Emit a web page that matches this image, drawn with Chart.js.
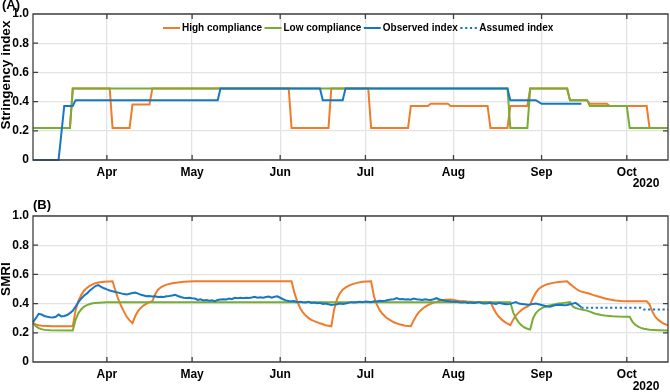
<!DOCTYPE html>
<html><head><meta charset="utf-8">
<script src="https://cdn.jsdelivr.net/npm/chart.js@4.4.1/dist/chart.umd.min.js"></script>
<style>
html,body{margin:0;padding:0;background:#fff;}
#wrap{position:relative;width:670px;height:392px;overflow:hidden;background:#fff;}
.p{position:absolute;left:0;width:670px;}
</style></head><body>
<div id="wrap">
<div class="p" style="top:0;height:192px"><canvas id="cA"></canvas></div>
<div class="p" style="top:192px;height:200px"><canvas id="cB"></canvas></div>
</div>
<script>
// x values are days counted from 1 March 2020 (day 0)
const monthTickDays = [31, 61, 92, 122, 153, 184, 214];
const monthTickLabels = ['Apr', 'May', 'Jun', 'Jul', 'Aug', 'Sep', 'Oct'];
const yearLabel = '2020';
const xStartDay = 5, xEndDay = 228.5;
const seriesNames = ['High compliance', 'Low compliance', 'Observed index', 'Assumed index'];

// Panel A: stringency index, [day, value] breakpoints
const stringencyHigh = [[5,0.22],[18,0.22],[19,0.49],[32,0.49],[33,0.22],[39,0.22],[40,0.38],[46,0.38],[47,0.49],[95,0.49],[96,0.22],[109,0.22],[110,0.49],[123,0.49],[124,0.22],[137,0.22],[138,0.37],[144,0.37],[145,0.385],[151,0.385],[152,0.37],[165,0.37],[166,0.22],[172,0.22],[173,0.37],[179,0.37],[180,0.49],[193,0.49],[194,0.41],[200,0.41],[201,0.385],[207,0.385],[208,0.37],[221,0.37],[222,0.22],[228.5,0.22]];
const stringencyLow = [[5,0.22],[18,0.22],[19,0.49],[172,0.49],[173,0.22],[179,0.22],[180,0.49],[193,0.49],[194,0.41],[200,0.41],[201,0.37],[214,0.37],[215,0.22],[228.5,0.22]];
const stringencyObserved = [[5,0],[14,0],[16,0.37],[19,0.37],[20,0.41],[70,0.41],[71,0.49],[106,0.49],[107,0.41],[114,0.41],[115,0.49],[172,0.49],[173,0.41],[182,0.41],[184,0.385],[198,0.385]];
const stringencyAssumed = [];

// Panel B: SMRI
const smriHigh = [[5,0.268],[6,0.258],[7,0.252],[8,0.249],[10,0.247],[12,0.245],[19,0.245],[20,0.355],[21,0.42],[22,0.46],[23,0.49],[24,0.508],[25,0.522],[26,0.532],[27,0.54],[28,0.545],[30,0.55],[33,0.553],[34,0.49],[35,0.43],[36,0.385],[37,0.345],[38,0.31],[39,0.285],[40,0.266],[41,0.315],[42,0.35],[43,0.372],[44,0.388],[45,0.4],[46,0.41],[47,0.416],[48,0.465],[49,0.495],[50,0.512],[51,0.522],[52,0.53],[54,0.54],[56,0.545],[58,0.549],[62,0.553],[96,0.553],[97,0.475],[98,0.415],[99,0.37],[100,0.34],[101,0.318],[102,0.3],[103,0.288],[104,0.28],[106,0.265],[108,0.252],[110,0.245],[111,0.36],[112,0.43],[113,0.47],[114,0.495],[115,0.51],[116,0.522],[117,0.53],[119,0.542],[121,0.549],[124,0.553],[125,0.45],[126,0.394],[127,0.355],[128,0.33],[129,0.31],[130,0.295],[132,0.272],[134,0.258],[136,0.249],[138,0.245],[139,0.285],[140,0.32],[141,0.345],[142,0.363],[143,0.378],[144,0.39],[146,0.407],[148,0.418],[150,0.426],[152,0.428],[154,0.422],[156,0.417],[158,0.414],[160,0.412],[166,0.411],[167,0.37],[168,0.335],[169,0.31],[170,0.29],[171,0.275],[172,0.262],[173,0.252],[174,0.29],[175,0.32],[176,0.34],[177,0.357],[178,0.37],[179,0.38],[180,0.394],[181,0.44],[182,0.475],[183,0.5],[184,0.515],[185,0.525],[186,0.533],[188,0.542],[190,0.548],[193,0.553],[194,0.535],[195,0.519],[196,0.503],[197,0.49],[198,0.482],[200,0.472],[201,0.467],[202,0.46],[204,0.449],[206,0.437],[208,0.428],[210,0.422],[212,0.418],[214,0.416],[221,0.416],[222,0.395],[223,0.345],[224,0.31],[225,0.29],[226,0.275],[227,0.263],[228.5,0.252]];
const smriLow = [[5,0.268],[6,0.245],[7,0.232],[8,0.225],[9,0.22],[11,0.217],[19,0.216],[20,0.29],[21,0.335],[22,0.362],[23,0.38],[24,0.39],[25,0.397],[26,0.402],[28,0.406],[31,0.41],[173,0.41],[174,0.34],[175,0.3],[176,0.27],[177,0.25],[178,0.236],[179,0.228],[180,0.222],[181,0.3],[182,0.335],[183,0.355],[184,0.368],[185,0.377],[186,0.384],[188,0.393],[190,0.4],[192,0.405],[194,0.41],[195,0.38],[196,0.37],[197,0.364],[198,0.36],[200,0.352],[201,0.345],[202,0.337],[203,0.33],[205,0.322],[207,0.316],[209,0.313],[211,0.311],[214,0.31],[215,0.31],[216,0.275],[217,0.255],[218,0.242],[219,0.234],[220,0.228],[222,0.221],[225,0.218],[228.5,0.216]];
const smriObservedStartDay = 5;
const smriObservedValues = [
 0.273,0.30,0.33,0.325,0.315,0.31,0.307,0.305,0.31,0.325,
 0.312,0.315,0.322,0.335,0.35,0.38,0.41,0.435,0.455,0.47,
 0.49,0.505,0.52,0.527,0.515,0.505,0.497,0.49,0.485,0.48,
 0.475,0.47,0.465,0.462,0.468,0.472,0.475,0.468,0.46,0.455,
 0.45,0.452,0.448,0.45,0.445,0.447,0.445,0.45,0.452,0.455,
 0.46,0.452,0.445,0.44,0.438,0.44,0.436,0.435,0.425,0.43,
 0.422,0.425,0.42,0.423,0.417,0.425,0.428,0.43,0.428,0.435,
 0.43,0.44,0.437,0.44,0.436,0.44,0.438,0.442,0.447,0.44,
 0.443,0.44,0.445,0.448,0.44,0.447,0.45,0.44,0.43,0.422,
 0.418,0.416,0.417,0.41,0.413,0.41,0.408,0.412,0.405,0.408,
 0.403,0.405,0.398,0.4,0.395,0.39,0.393,0.395,0.4,0.398,
 0.4,0.405,0.41,0.408,0.41,0.412,0.41,0.415,0.413,0.41,
 0.416,0.415,0.42,0.418,0.42,0.425,0.428,0.43,0.438,0.43,
 0.432,0.428,0.43,0.427,0.435,0.43,0.428,0.425,0.43,0.427,
 0.425,0.43,0.437,0.428,0.425,0.42,0.418,0.415,0.412,0.415,
 0.41,0.408,0.41,0.405,0.408,0.404,0.405,0.41,0.403,0.40,
 0.402,0.405,0.40,0.398,0.405,0.40,0.398,0.395,0.398,0.405,
 0.41,0.40,0.398,0.395,0.392,0.394,0.398,0.40,0.395,0.39,
 0.385,0.38,0.378,0.385,0.39,0.392,0.39,0.388,0.39,0.395,
 0.40,0.405,0.39,0.375];
const smriAssumed = [[198,0.371],[219,0.371],[220,0.36],[228.5,0.36]];

const FONT = '"Liberation Sans", Arial, Helvetica, sans-serif';
const COL = { high: '#F07C2A', low: '#77AD35', obs: '#1677C4' };
Chart.defaults.font.family = FONT;

const pairsToPoints = (pairs) => pairs.map(p => ({ x: p[0], y: p[1] }));
const seqToPoints = (start, vals) => vals.map((v, i) => ({ x: start + i, y: v }));

function makeDatasets(high, low, obs, assumed) {
  return [
    { label: seriesNames[0], data: high, borderColor: COL.high, backgroundColor: COL.high, borderWidth: 2, order: 3 },
    { label: seriesNames[1], data: low, borderColor: COL.low, backgroundColor: COL.low, borderWidth: 2, order: 2 },
    { label: seriesNames[2], data: obs, borderColor: COL.obs, backgroundColor: COL.obs, borderWidth: 2, order: 1 },
    { label: seriesNames[3], data: assumed, borderColor: COL.obs, backgroundColor: COL.obs, borderWidth: 2, borderDash: [2.2, 2.6], order: 0 }
  ].map(d => Object.assign(d, { pointRadius: 0, pointHoverRadius: 0, tension: 0, fill: false, borderJoinStyle: 'miter', clip: 3 }));
}

const decor = {
  id: 'decor',
  afterDatasetsDraw(chart, args, o) {
    const { ctx, chartArea: a } = chart;
    const xs = chart.scales.x, ys = chart.scales.y;
    ctx.save();
    // box and inward ticks
    ctx.strokeStyle = '#404040';
    ctx.lineWidth = 1.3;
    ctx.beginPath();
    ctx.rect(a.left, a.top, a.right - a.left, a.bottom - a.top);
    const tl = 5;
    xs.ticks.forEach(t => {
      const p = xs.getPixelForValue(t.value);
      ctx.moveTo(p, a.bottom); ctx.lineTo(p, a.bottom - tl);
      ctx.moveTo(p, a.top); ctx.lineTo(p, a.top + tl);
    });
    ys.ticks.forEach(t => {
      const p = ys.getPixelForValue(t.value);
      ctx.moveTo(a.left, p); ctx.lineTo(a.left + tl, p);
      ctx.moveTo(a.right, p); ctx.lineTo(a.right - tl, p);
    });
    ctx.stroke();
    ctx.fillStyle = '#000';
    // panel tag
    ctx.font = 'bold 13px ' + FONT;
    ctx.textAlign = 'left'; ctx.textBaseline = 'middle';
    ctx.fillText(o.tag.text, o.tag.x, o.tag.y);
    // year
    ctx.font = 'bold 12px ' + FONT;
    ctx.textAlign = 'center';
    ctx.fillText(yearLabel, o.year.x, o.year.y);
    // y title
    ctx.save();
    ctx.translate(o.title.x, o.title.y);
    ctx.rotate(-Math.PI / 2);
    ctx.font = 'bold 13.5px ' + FONT;
    ctx.textAlign = 'center'; ctx.textBaseline = 'middle';
    ctx.fillText(o.title.text, 0, 0);
    ctx.restore();
    // legend inside the axes
    if (o.legend) {
      let x = o.legend.x;
      const y = o.legend.y;
      ctx.font = 'bold 10px ' + FONT;
      ctx.textAlign = 'left'; ctx.textBaseline = 'middle';
      chart.data.datasets.forEach(ds => {
        ctx.save();
        ctx.strokeStyle = ds.borderColor;
        ctx.lineWidth = 2;
        ctx.setLineDash(ds.borderDash || []);
        ctx.beginPath(); ctx.moveTo(x, y); ctx.lineTo(x + 17, y); ctx.stroke();
        ctx.restore();
        ctx.fillStyle = '#000';
        ctx.fillText(ds.label, x + 19, y + 0.5);
        x += 19 + ctx.measureText(ds.label).width + 2.5;
      });
    }
    ctx.restore();
  }
};

function makeChart(id, datasets, padTop, xHeight, decorOpts) {
  return new Chart(document.getElementById(id), {
    type: 'line',
    data: { datasets },
    plugins: [decor],
    options: {
      responsive: true, maintainAspectRatio: false, animation: false, events: [],
      layout: { padding: { top: padTop, right: 2, left: 0, bottom: 0 } },
      plugins: { legend: { display: false }, tooltip: { enabled: false }, decor: decorOpts },
      scales: {
        x: {
          type: 'linear', min: xStartDay, max: xEndDay,
          afterBuildTicks: s => { s.ticks = monthTickDays.map(v => ({ value: v })); },
          afterFit: s => { s.height = xHeight; },
          ticks: { autoSkip: false, maxRotation: 0, padding: 5, color: '#000',
                   font: { size: 12, weight: 'bold' },
                   callback: v => monthTickLabels[monthTickDays.indexOf(v)] },
          grid: { color: '#e3e3e3', lineWidth: 1.3, drawTicks: false },
          border: { display: false }
        },
        y: {
          min: 0, max: 1,
          afterFit: s => { s.width = 33; },
          ticks: { stepSize: 0.2, padding: 4, color: '#000', font: { size: 12, weight: 'bold' } },
          grid: { color: '#e3e3e3', lineWidth: 1.3, drawTicks: false },
          border: { display: false }
        }
      }
    }
  });
}

makeChart('cA',
  makeDatasets(pairsToPoints(stringencyHigh), pairsToPoints(stringencyLow), pairsToPoints(stringencyObserved), pairsToPoints(stringencyAssumed)),
  14, 32,
  { tag: { text: '(A)', x: 2, y: 5 }, year: { x: 646, y: 184 }, title: { text: 'Stringency index', x: 6, y: 75 }, legend: { x: 163, y: 28 } });

makeChart('cB',
  makeDatasets(pairsToPoints(smriHigh), pairsToPoints(smriLow), seqToPoints(smriObservedStartDay, smriObservedValues), pairsToPoints(smriAssumed)),
  24, 30,
  { tag: { text: '(B)', x: 33, y: 13 }, year: { x: 646, y: 195 }, title: { text: 'SMRI', x: 6, y: 87 }, legend: null });
</script>
</body></html>
